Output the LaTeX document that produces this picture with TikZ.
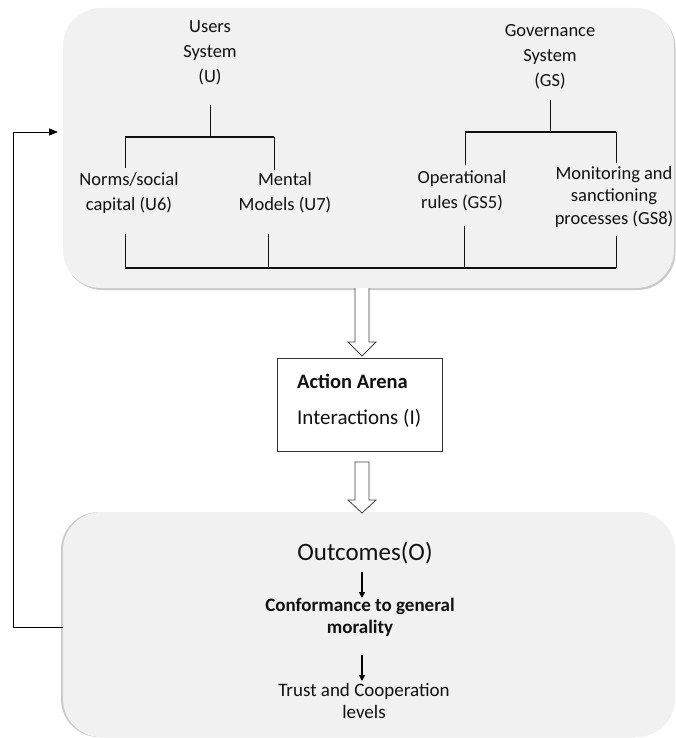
\documentclass[tikz,border=0pt]{standalone}
\usepackage{fontspec}
\setmainfont{Carlito}
\usetikzlibrary{calc,shadows,arrows.meta}

\definecolor{panel}{HTML}{F1F1F1}
\definecolor{ink}{HTML}{111111}

\tikzset{
  panelbox/.style={draw=none, fill=panel, rounded corners=38pt, inner sep=0pt},
  label/.style={align=center, text=ink, inner sep=0pt,
    font=\fontsize{18.5}{25}\selectfont},
  bar/.style={line width=1.7pt, draw=ink},
  riser/.style={line width=0.8pt, draw=ink},
  hollow/.style={draw=black!75, line width=0.8pt, fill=white, line join=miter},
  smallarrow/.style={line width=1.4pt, -{Triangle[length=6pt,width=6pt]}},
  feedback/.style={line width=0.8pt, -{Triangle[length=9pt,width=7pt]}}
}

\begin{document}
\begin{tikzpicture}[x=1pt,y=-1pt]
\useasboundingbox (0,0) rectangle (676,738);

% ---- panels ----
\node[panelbox, minimum width=611pt, minimum height=280pt,
  drop shadow={shadow xshift=1.5pt, shadow yshift=-2pt, opacity=0.35, fill=black!60}]
  (sys) at (368.5,148) {};
\node[panelbox, minimum width=612pt, minimum height=225pt,
  drop shadow={shadow xshift=-2pt, shadow yshift=0pt, opacity=0.35, fill=black!60}]
  (out) at (369,624.5) {};

% ---- users and governance subsystems ----
\node[label] (users) at (210,53) {Users\\System\\(U)};
\node[label] (gov)   at (550,57) {Governance\\System\\(GS)};
\node[label] (norms) at (129,193) {Norms/social\\capital (U6)};
\node[label] (mental) at (285,193) {Mental\\Models (U7)};
\node[label] (oper) at (462,191) {Operational\\rules (GS5)};
\node[label, font=\fontsize{18.5}{22.5}\selectfont] (monit) at (614,197)
  {Monitoring and\\sanctioning\\processes (GS8)};

% users tree
\coordinate (uTop) at (210,105);
\coordinate (uJoin) at (210,137);
\coordinate (uL) at (125,137);
\coordinate (uR) at (274,137);
\draw[riser] (uTop) -- (uJoin);
\draw[bar] (uL) -- (uR);
\draw[riser] (uL) -- (125,168);
\draw[riser] (uR) -- (274,170);

% governance tree
\coordinate (gTop) at (550,100);
\coordinate (gJoin) at (550,132);
\coordinate (gL) at (465,132);
\coordinate (gR) at (616,132);
\draw[riser] (gTop) -- (gJoin);
\draw[bar] (gL) -- (gR);
\draw[riser] (gL) -- (465,165);
\draw[riser] (gR) -- (616,163);

% joining bar under the four variables
\coordinate (bL) at (125,268);
\coordinate (bR) at (616,268);
\draw[bar] (bL) -- (bR);
\draw[riser] (125,234) -- (bL);
\draw[riser] (268,234) -- (268,268);
\draw[riser] (464,226) -- (464,268);
\draw[riser] (616,236) -- (bR);

% ---- action arena ----
\node[draw=black!80, line width=0.9pt, fill=white, minimum width=165pt,
  minimum height=93pt, inner sep=0pt] (arena) at (359.5,404.5) {};
\node[anchor=west, inner sep=0pt, text=ink,
  font=\fontsize{20.5}{24}\selectfont\bfseries] (aTitle) at (297,381) {Action Arena};
\node[anchor=west, inner sep=0pt, text=ink,
  font=\fontsize{21}{25}\selectfont] (aSub) at (297,418) {Interactions (I)};

% ---- hollow block arrows ----
\coordinate (h1a) at (362,288);
\coordinate (h1b) at (362,356);
\draw[hollow] ($(h1a)+(-7,0)$) -- ($(h1b)+(-7,-14)$) -- ($(h1b)+(-14,-14)$)
  -- (h1b) -- ($(h1b)+(14,-14)$) -- ($(h1b)+(7,-14)$) -- ($(h1a)+(7,0)$);
\coordinate (h2a) at (362,462);
\coordinate (h2b) at (362,513);
\draw[hollow] ($(h2a)+(-7,0)$) -- ($(h2b)+(-7,-13)$) -- ($(h2b)+(-14,-13)$)
  -- (h2b) -- ($(h2b)+(14,-13)$) -- ($(h2b)+(7,-13)$) -- ($(h2a)+(7,0)$) -- cycle;

% ---- outcomes ----
\node[inner sep=0pt, text=ink, font=\fontsize{25}{30}\selectfont] (outc) at (365,553) {Outcomes(O)};
\node[label, font=\fontsize{19}{22}\selectfont\bfseries] (conf) at (360,617)
  {Conformance to general\\morality};
\node[label, font=\fontsize{19}{22}\selectfont] (trust) at (364,701)
  {Trust and Cooperation\\levels};
\draw[smallarrow] (362,572) -- (362,598);
\draw[smallarrow] (362,655) -- (362,681);

% ---- feedback loop ----
\coordinate (fb1) at (13,627);
\coordinate (fb2) at (13,132);
\draw[feedback] (out.west |- fb1) -- (fb1) -- (fb2) -- (58,132);

\end{tikzpicture}
\end{document}
